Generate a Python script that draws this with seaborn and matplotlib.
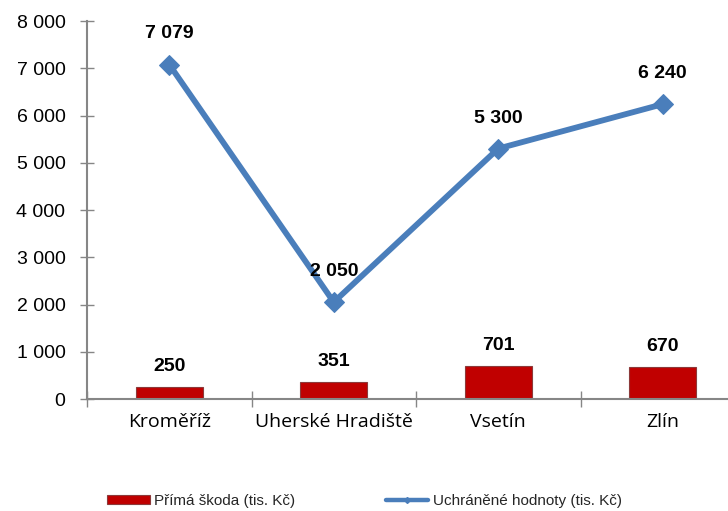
import matplotlib
matplotlib.use("Agg")
import matplotlib.pyplot as plt
import seaborn as sns
import pandas as pd
from matplotlib.ticker import FuncFormatter, MultipleLocator, FixedLocator
from matplotlib.patches import Patch
from matplotlib.lines import Line2D

categories = ["Kroměříž", "Uherské Hradiště", "Vsetín", "Zlín"]
prima_skoda = [250, 351, 701, 670]
uchranene = [7079, 2050, 5300, 6240]
bar_label = "Přímá škoda (tis. Kč)"
line_label = "Uchráněné hodnoty (tis. Kč)"

sns.set_theme(style="white")
plt.rcParams['font.family'] = ['Liberation Sans', 'DejaVu Sans']

df = pd.DataFrame({"kraj": categories, "skoda": prima_skoda, "uchr": uchranene})

fig = plt.figure(figsize=(7.28, 5.11), dpi=100)
ax = fig.add_axes([87/728, 112/511, (745-87)/728, (399-21)/511])
ax.set_clip_on(False)

BAR_C = "#C00000"
LINE_C = "#4A7EBB"
GREY = "#868686"

sns.barplot(data=df, x="kraj", y="skoda", color=BAR_C, width=0.41,
            edgecolor="#8C3A3A", linewidth=0.8, saturation=1, ax=ax)
sns.lineplot(data=df, x="kraj", y="uchr", color=LINE_C, linewidth=4.2,
             marker="D", markersize=10.5, markeredgecolor=LINE_C, ax=ax,
             sort=False, zorder=5)

ax.set_xlim(-0.5, 3.5)
ax.set_ylim(0, 8000)
ax.set_xlabel("")
ax.set_ylabel("")

fmt = FuncFormatter(lambda v, p: f"{int(v):,}".replace(",", " "))
ax.yaxis.set_major_locator(MultipleLocator(1000))
ax.yaxis.set_major_formatter(fmt)
ax.tick_params(axis="y", direction="inout", length=10, width=1, color=GREY,
               labelsize=14, pad=10.5, left=True, labelcolor="black")
ax.tick_params(axis="x", which="major", length=0, labelsize=14, pad=10,
               labelcolor="black")
ax.xaxis.set_minor_locator(FixedLocator([-0.5, 0.5, 1.5, 2.5, 3.5]))
ax.tick_params(axis="x", which="minor", direction="inout", length=12, width=1,
               color=GREY, bottom=True)
for lab in ax.get_xticklabels():
    lab.set_fontfamily(["Open Sans", "DejaVu Sans"])

for s in ["top", "right"]:
    ax.spines[s].set_visible(False)
for s in ["left", "bottom"]:
    ax.spines[s].set_color(GREY)
    ax.spines[s].set_linewidth(1.5)
ax.grid(False)

for i, v in enumerate(uchranene):
    ax.annotate(f"{v:,}".replace(",", " "), (i, v), xytext=(0, 22),
                textcoords="offset points", ha="center", va="center",
                fontsize=14, fontweight="bold", color="black", zorder=6)
for i, v in enumerate(prima_skoda):
    ax.annotate(f"{v:,}".replace(",", " "), (i, v), xytext=(0, 15),
                textcoords="offset points", ha="center", va="center",
                fontsize=14, fontweight="bold", color="black")

handles = [
    Patch(facecolor=BAR_C, edgecolor="#8C3A3A", linewidth=0.8),
    Line2D([0], [0], color=LINE_C, linewidth=3.2, marker="D", markersize=3),
]
fig.legend(handles, [bar_label, line_label], loc="center",
           bbox_to_anchor=(364.5/728, 1 - 501/511), ncol=2, frameon=False,
           fontsize=11, handlelength=2.8, handletextpad=0.3,
           columnspacing=5.9, handleheight=0.55)

fig.savefig("out.png", dpi=100)
